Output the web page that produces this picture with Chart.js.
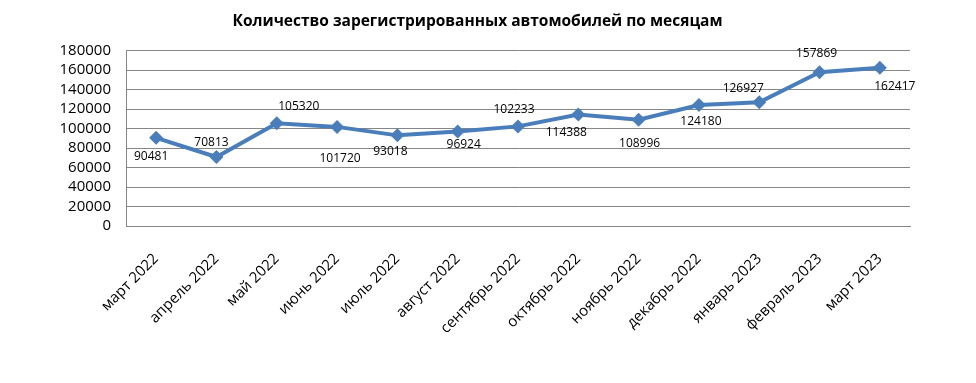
<!DOCTYPE html>
<html>
<head>
<meta charset="utf-8">
<script src="https://cdn.jsdelivr.net/npm/chart.js@4.4.1/dist/chart.umd.min.js"></script>
<style>
  html, body { margin: 0; padding: 0; background: #ffffff; }
  #wrap { width: 976px; height: 383px; position: relative; }
</style>
</head>
<body>
<div id="wrap"><canvas id="c" width="976" height="383"></canvas></div>
<script>
const titleText = 'Количество зарегистрированных автомобилей по месяцам';
const categories = ['март 2022', 'апрель 2022', 'май 2022', 'июнь 2022', 'июль 2022', 'август 2022',
  'сентябрь 2022', 'октябрь 2022', 'ноябрь 2022', 'декабрь 2022', 'январь 2023', 'февраль 2023', 'март 2023'];
const registrations = [90481, 70813, 105320, 101720, 93018, 96924, 102233, 114388, 108996, 124180, 126927, 157869, 162417];
const yTicks = [0, 20000, 40000, 60000, 80000, 100000, 120000, 140000, 160000, 180000];

// label offsets (styling) relative to each point: [dx, dy]
const labelOffsets = [[-5, 19], [-5, -14], [22, -17], [3, 32], [-7, 16], [6, 13], [-4, -17],
  [-12, 18], [1, 24], [2, 17], [-16, -14], [-3, -19], [15, 19]];

const dataLabels = {
  id: 'dataLabels',
  afterLayout(chart) {
    const tb = chart.titleBlock;
    if (tb) { tb.left = 0; tb.right = 955; tb.width = 955; }
  },
  afterDatasetsDraw(chart) {
    const ctx = chart.ctx;
    const meta = chart.getDatasetMeta(0);
    ctx.save();
    ctx.font = '12px "Open Sans"';
    ctx.fillStyle = '#000000';
    ctx.textAlign = 'center';
    ctx.textBaseline = 'middle';
    meta.data.forEach((pt, i) => {
      const o = labelOffsets[i];
      ctx.fillText(String(registrations[i]), pt.x + o[0], pt.y + o[1]);
    });
    ctx.restore();
  }
};

new Chart(document.getElementById('c'), {
  type: 'line',
  data: {
    labels: categories,
    datasets: [{
      data: registrations,
      borderColor: '#4A7EBB',
      backgroundColor: '#4A7EBB',
      borderWidth: 4,
      pointStyle: 'rectRot',
      pointRadius: 7,
      pointHoverRadius: 7,
      pointBorderWidth: 0,
      tension: 0
    }]
  },
  options: {
    responsive: false,
    animation: false,
    devicePixelRatio: 1,
    layout: { padding: { left: 0, right: 66, top: 0, bottom: 0 } },
    plugins: {
      legend: { display: false },
      tooltip: { enabled: false },
      title: {
        display: true,
        text: titleText,
        color: '#000000',
        font: { family: '"Open Sans"', size: 15.5, weight: 'bold' },
        padding: { top: 12, bottom: 20 }
      }
    },
    scales: {
      x: {
        offset: true,
        grid: { display: false, drawTicks: false },
        border: { display: true, color: '#868686', width: 1 },
        ticks: {
          color: '#000000',
          font: { family: '"Open Sans"', size: 15 },
          minRotation: 45,
          maxRotation: 45,
          padding: 24,
          autoSkip: false
        },
        afterFit(scale) { scale.height = 157; }
      },
      y: {
        min: 0,
        max: 180000,
        afterBuildTicks(scale) { scale.ticks = yTicks.map(v => ({ value: v })); },
        grid: { color: '#868686', lineWidth: 1, drawTicks: false },
        border: { display: true, color: '#868686', width: 1 },
        ticks: {
          color: '#000000',
          font: { family: '"Open Sans"', size: 15 },
          padding: 15,
          autoSkip: false,
          callback: v => String(v)
        },
        afterFit(scale) { scale.width = 126; }
      }
    }
  },
  plugins: [dataLabels]
});
</script>
</body>
</html>
